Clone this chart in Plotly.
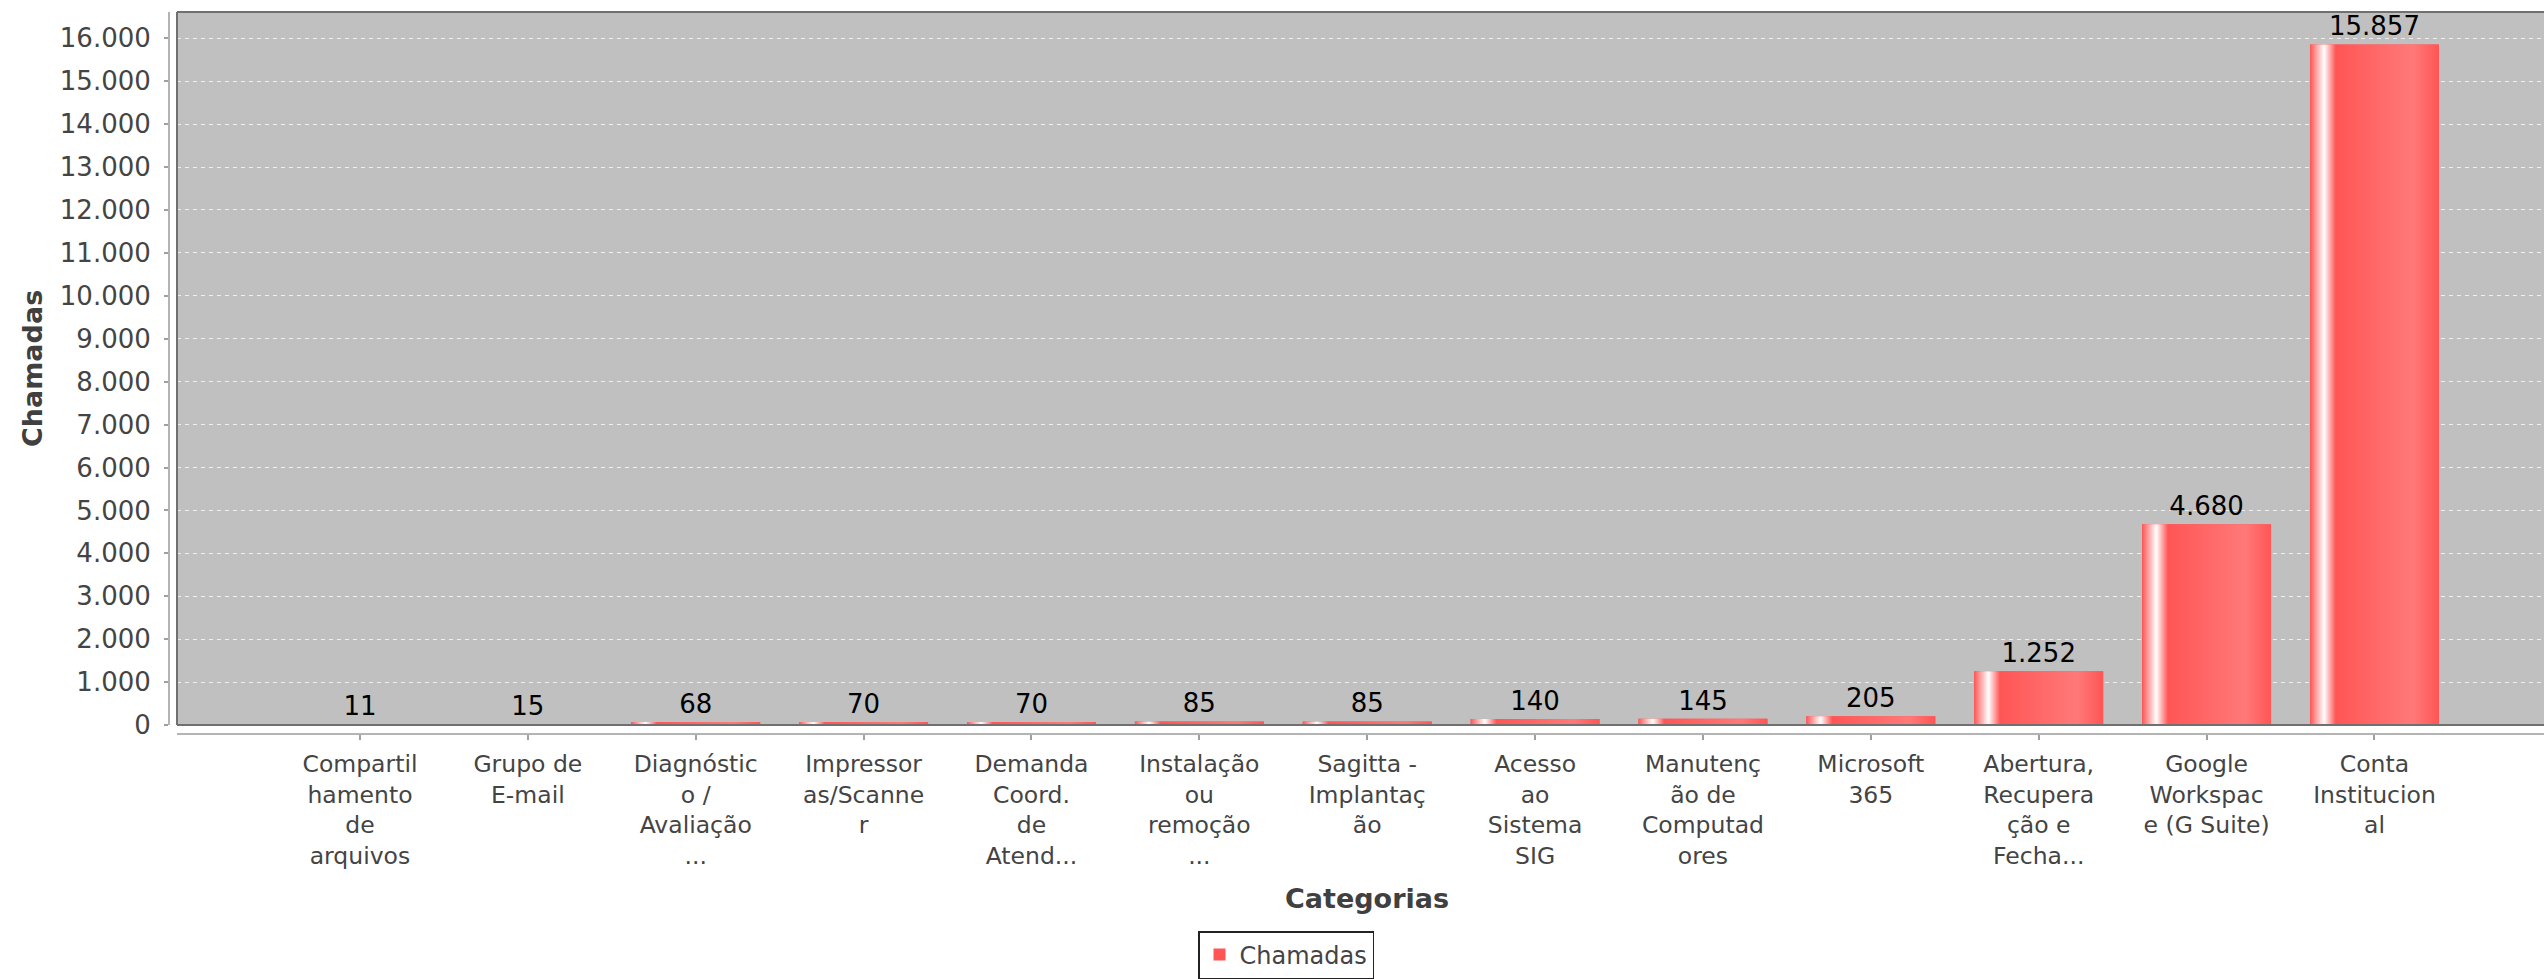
import plotly.graph_objects as go

# ---- data ----
categorias = [
    "Compartil<br>hamento<br>de<br>arquivos",
    "Grupo de<br>E-mail",
    "Diagnóstic<br>o /<br>Avaliação<br>...",
    "Impressor<br>as/Scanne<br>r",
    "Demanda<br>Coord.<br>de<br>Atend...",
    "Instalação<br>ou<br>remoção<br>...",
    "Sagitta -<br>Implantaç<br>ão",
    "Acesso<br>ao<br>Sistema<br>SIG",
    "Manutenç<br>ão de<br>Computad<br>ores",
    "Microsoft<br>365",
    "Abertura,<br>Recupera<br>ção e<br>Fecha...",
    "Google<br>Workspac<br>e (G Suite)",
    "Conta<br>Institucion<br>al",
]
chamadas = [11, 15, 68, 70, 70, 85, 85, 140, 145, 205, 1252, 4680, 15857]
serie = "Chamadas"
y_ticks = list(range(0, 17000, 1000))

# ---- style ----
W, H = 2544, 979
ML, MR, MT, MB = 169, 0, 12, 242
FONT = "DejaVu Sans"
BASE = "#FF5555"
LIGHT = "#FF7979"
BAR_W = 0.768

pw = W - ML - MR
ph = H - MT - MB
xdom0 = 8 / pw
ydom0 = 9 / ph

pos = list(range(len(categorias)))

fig = go.Figure()

fig.add_trace(go.Bar(
    x=pos, y=chamadas, width=BAR_W, name=serie,
    marker=dict(color=BASE, line=dict(width=0)),
    text=chamadas, texttemplate="%{y:,d}", textposition="outside",
    outsidetextfont=dict(family=FONT, size=26, color="#000000"),
    constraintext="none", cliponaxis=False, hoverinfo="x+y",
))

# gradient overlay for each bar (JFreeChart-style gradient painter)
for xi, v in zip(pos, chamadas):
    x0, x1 = xi - BAR_W / 2, xi + BAR_W / 2
    fig.add_trace(go.Scatter(
        x=[x0, x1, x1, x0, x0], y=[0, 0, v, v, 0],
        mode="none", fill="toself",
        fillgradient=dict(type="horizontal", colorscale=[
            [0.0, BASE], [0.11, "#FFFFFF"], [0.2, BASE], [0.8, LIGHT], [1.0, BASE]]),
        showlegend=False, hoverinfo="skip",
    ))

fig.update_layout(
    width=W, height=H,
    margin=dict(l=ML, r=MR, t=MT, b=MB, pad=0),
    paper_bgcolor="#FFFFFF", plot_bgcolor="#C0C0C0",
    separators=",.",
    font=dict(family=FONT, size=24, color="#444444"),
    barmode="overlay",
    showlegend=True,
    legend=dict(
        orientation="h", x=(1286 - ML) / pw, xanchor="center",
        y=(737 - 935) / ph, yanchor="top",
        bordercolor="#222222", borderwidth=1.5, bgcolor="#FFFFFF",
        font=dict(family=FONT, size=24, color="#444444"),
        itemwidth=30,
    ),
    xaxis=dict(
        domain=[xdom0, 1], anchor="free", position=0,
        range=[-1.09, 13.01],
        tickmode="array", tickvals=pos, ticktext=categorias,
        ticks="outside", ticklen=5, tickcolor="#A0A0A0", tickwidth=1.5,
        showline=True, linecolor="#B4B4B4", linewidth=2,
        showgrid=False, zeroline=False,
        tickfont=dict(family=FONT, size=23.5, color="#444444"),
        ticklabelstandoff=4,
    ),
    yaxis=dict(
        domain=[ydom0, 1], anchor="free", position=0,
        range=[0, 16612],
        tickmode="array", tickvals=y_ticks, tickformat=",d",
        ticks="outside", ticklen=4, tickcolor="#A0A0A0", tickwidth=1.5,
        showline=True, linecolor="#B4B4B4", linewidth=2,
        showgrid=True, gridcolor="#EEEEEE", gridwidth=1, griddash="4px,4px",
        zeroline=False,
        tickfont=dict(family=FONT, size=26, color="#444444"),
        ticklabelstandoff=8,
    ),
    shapes=[
        dict(type="line", xref="x domain", yref="y domain", x0=0, x1=0, y0=0, y1=1,
             line=dict(color="#707070", width=2)),
        dict(type="line", xref="x domain", yref="y domain", x0=0, x1=1, y0=1, y1=1,
             line=dict(color="#707070", width=2)),
        dict(type="line", xref="x domain", yref="y domain", x0=0, x1=1, y0=0, y1=0,
             line=dict(color="#707070", width=2)),
    ],
    annotations=[
        dict(text="Chamadas", xref="paper", yref="paper",
             x=(32.5 - ML) / pw, y=(737 - 370) / ph, textangle=-90,
             xanchor="center", yanchor="middle", showarrow=False,
             font=dict(family=FONT, size=27, color="#404040", weight="bold")),
        dict(text="Categorias", xref="paper", yref="paper",
             x=(1367 - ML) / pw, y=(737 - 902) / ph,
             xanchor="center", yanchor="middle", showarrow=False,
             font=dict(family=FONT, size=27, color="#404040", weight="bold")),
    ],
)

fig.write_html("out.html")
